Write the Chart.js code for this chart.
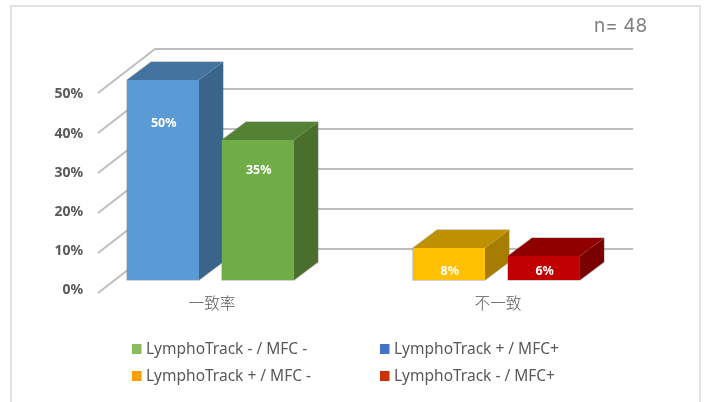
<!DOCTYPE html>
<html><head><meta charset="utf-8">
<style>html,body{margin:0;padding:0;background:#fff;overflow:hidden}#w{width:704px;height:402px;position:relative}canvas{display:block;filter:blur(.35px)}</style>
<script src="https://cdn.jsdelivr.net/npm/chart.js@4"></script>
</head><body><div id="w"><canvas id="c" width="704" height="402"></canvas></div>
<script>
const categories = ['一致率', '不一致'];
const concordantNeg = [35, null];
const concordantPos = [50, null];
const discordantLT = [null, 8];
const discordantMFC = [null, 6];
const axisTicks = [0, 10, 20, 30, 40, 50];
const wallLines = [0, 10, 20, 30, 40, 50];
const seriesNames = ['LymphoTrack + / MFC+', 'LymphoTrack - / MFC -', 'LymphoTrack + / MFC -', 'LymphoTrack - / MFC+'];
const annotation = 'n= 48';

const FONT = '"Noto Sans","Noto Sans CJK SC",sans-serif';
const TEXT = '#595959';
const DX = 24, DY = 18;                 // bar depth
const shades = [
  {front:'#5B9BD5', top:'#44739F', side:'#3A6489', key:'#4472C4'},
  {front:'#70AD47', top:'#548235', side:'#4A6E2B', key:'#8CBB60'},
  {front:'#FFC000', top:'#BF9000', side:'#A67D00', key:'#FFA000'},
  {front:'#C00000', top:'#900000', side:'#7B0000', key:'#CC3300'}
];
const legendSlots = [
  {series:1, x:132, y:349.5}, {series:0, x:380, y:349.5},
  {series:2, x:132, y:376.5}, {series:3, x:380, y:376.5}
];

const scene = {
  id:'scene',
  beforeDraw(ch){
    const c = ch.ctx; c.save();
    c.strokeStyle='#D9D9D9'; c.lineWidth=1.5;
    c.strokeRect(11,6,689,420);
    c.restore();
  },
  beforeDatasetsDraw(ch){
    const c = ch.ctx, y = ch.scales.y;
    c.save();
    c.strokeStyle='#BDBDBD'; c.lineWidth=1.9;
    wallLines.forEach(v=>{
      const p = y.getPixelForValue(v);
      c.beginPath();
      c.moveTo(98,p+13); c.lineTo(155,p-31); c.lineTo(633,p-31);
      c.stroke();
    });
    ch.data.datasets.forEach((d,i)=>{
      ch.getDatasetMeta(i).data.forEach((b,j)=>{
        if (d.data[j]==null) return;
        const l=b.x-b.width/2, r=b.x+b.width/2, t=b.y, o=b.base, s=shades[i];
        c.lineJoin='round';
        c.strokeStyle='rgba(120,120,120,.45)'; c.lineWidth=1.5;
        c.beginPath();
        c.moveTo(l,o); c.lineTo(l,t); c.lineTo(l+DX,t-DY); c.lineTo(r+DX,t-DY); c.lineTo(r+DX,o-DY); c.lineTo(r,o); c.closePath(); c.stroke();
        c.fillStyle=s.side;
        c.beginPath(); c.moveTo(r,t); c.lineTo(r+DX,t-DY); c.lineTo(r+DX,o-DY); c.lineTo(r,o); c.closePath(); c.fill();
        c.fillStyle=s.top;
        c.beginPath(); c.moveTo(l,t); c.lineTo(l+DX,t-DY); c.lineTo(r+DX,t-DY); c.lineTo(r,t); c.closePath(); c.fill();
      });
    });
    c.restore();
  },
  afterDatasetsDraw(ch){
    const c = ch.ctx;
    c.save();
    c.fillStyle='#fff'; c.font='bold 12.5px '+FONT; c.textAlign='center'; c.textBaseline='middle';
    ch.data.datasets.forEach((d,i)=>{
      ch.getDatasetMeta(i).data.forEach((b,j)=>{
        if (d.data[j]==null) return;
        const h=b.base-b.y, py = h>100 ? b.y+h*0.21+1 : b.base-9;
        c.fillText(d.data[j]+'%', b.x+0.7, py);
      });
    });
    c.restore();
  },
  afterDraw(ch){
    const c = ch.ctx;
    c.save();
    c.textBaseline='middle'; c.textAlign='left';
    legendSlots.forEach(k=>{
      c.fillStyle=shades[k.series].key;
      c.fillRect(k.x,k.y-5.5,9.5,10);
      c.fillStyle=TEXT; c.font='15.5px '+FONT;
      c.fillText(ch.data.datasets[k.series].label,k.x+14,k.y);
    });
    c.fillStyle='#7F7F7F'; c.font='19px Inter,'+FONT;
    c.fillText(annotation,594,26);
    c.restore();
  }
};

new Chart(document.getElementById('c'),{
  type:'bar',
  data:{labels:categories,datasets:[
    {label:seriesNames[0],data:concordantPos,backgroundColor:shades[0].front,yAxisID:'y'},
    {label:seriesNames[1],data:concordantNeg,backgroundColor:shades[1].front,yAxisID:'y'},
    {label:seriesNames[2],data:discordantLT,backgroundColor:shades[2].front,yAxisID:'y'},
    {label:seriesNames[3],data:discordantMFC,backgroundColor:shades[3].front,yAxisID:'y'}
  ]},
  plugins:[scene],
  options:{
    responsive:false,animation:false,
    devicePixelRatio:1,
    layout:{padding:{left:0,top:49,right:64.5,bottom:0}},
    datasets:{bar:{skipNull:true,barPercentage:0.758,categoryPercentage:0.664}},
    plugins:{legend:{display:false},title:{display:false},tooltip:{enabled:false}},
    scales:{
      x:{
        grid:{display:false},border:{display:false},
        ticks:{color:TEXT,padding:-7,labelOffset:1.5,font:{family:'"Noto Sans CJK SC"',size:15.7,weight:300},maxRotation:0},
        afterFit(s){s.height=109;}
      },
      y:{
        display:false,min:-3.25,max:57.75,bounds:'data'
      },
      yTicks:{
        position:'left',min:-0.64,max:61.6,bounds:'data',
        grid:{display:false,drawTicks:false},border:{display:false},
        ticks:{color:TEXT,mirror:true,crossAlign:'far',padding:-13,font:{family:FONT,size:14,weight:'bold'},callback:v=>v+'%'},
        afterBuildTicks(s){s.ticks=axisTicks.map(v=>({value:v}));},
        afterFit(s){s.width=67.5;}
      }
    }
  }
});
</script></body></html>
